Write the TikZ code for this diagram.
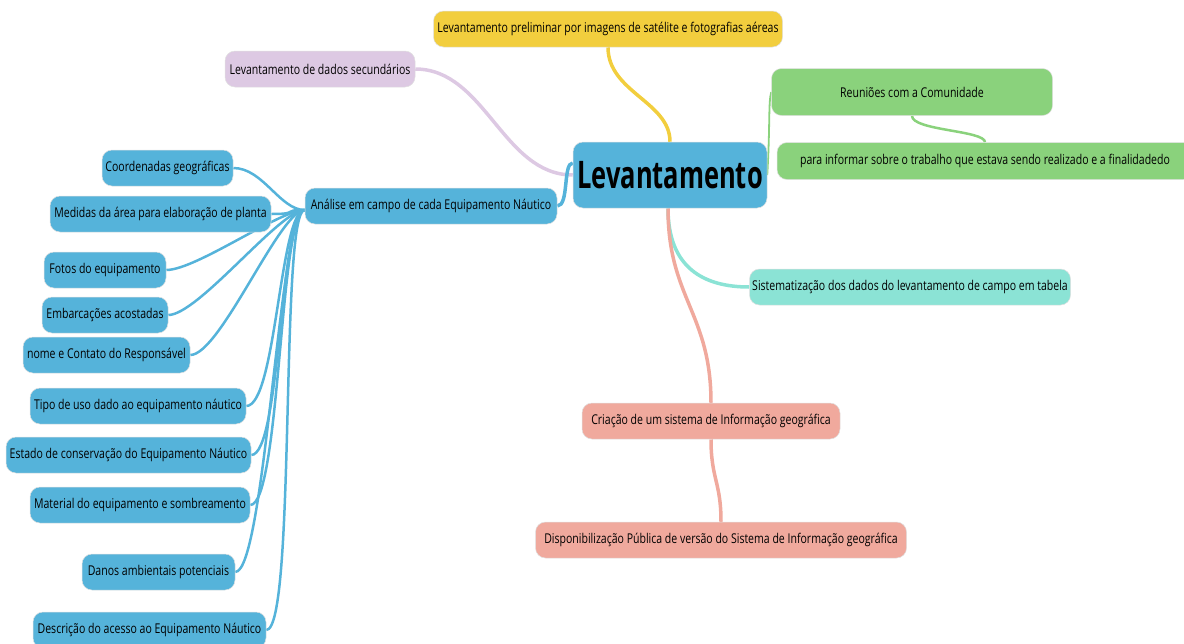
\documentclass[tikz,border=0pt]{standalone}
\usepackage{fontspec}
\setmainfont{Open Sans}[FakeStretch=0.78]
\newfontfamily\levfont{Open Sans}[FakeStretch=0.67]
\usetikzlibrary{backgrounds}
\definecolor{azul}{HTML}{55B3DA}
\definecolor{amarelo}{HTML}{F2CE3E}
\definecolor{lilas}{HTML}{DDC9E3}
\definecolor{verde}{HTML}{8AD27C}
\definecolor{turquesa}{HTML}{8BE3D5}
\definecolor{salmao}{HTML}{F0A99D}
\begin{document}
\begin{tikzpicture}[x=1pt,y=-1pt,line cap=round,font=\fontsize{13.5}{16}\selectfont,
	caixa/.style={rounded corners=10pt,draw=black!12,line width=.5pt,minimum height=36pt,inner sep=0pt,text=black},
	ramo/.style={line width=3.5pt},
	folha/.style={line width=2.5pt,azul}]
	\useasboundingbox (0,0) rectangle (1184,643);
	% centro
	\node[caixa,fill=azul,minimum width=194pt,minimum height=66pt,font=\levfont\fontsize{38}{40}\selectfont\bfseries] (lev) at (670,175) {Levantamento};
	\node[caixa,fill=amarelo,minimum width=349pt] (prelim) at (608,29) {Levantamento preliminar por imagens de satélite e fotografias aéreas};
	\node[caixa,fill=lilas,minimum width=190pt] (secund) at (320,69) {Levantamento de dados secundários};
	\node[caixa,fill=verde,minimum width=281pt,minimum height=47pt] (reuniao) at (912,92) {Reuniões com a Comunidade};
	\node[caixa,fill=verde,minimum width=416pt,minimum height=37pt] (informar) at (985,161) {para informar sobre o trabalho que estava sendo realizado e a finalidadedo};
	\node[caixa,fill=turquesa,minimum width=321pt] (tabela) at (910,287) {Sistematização dos dados do levantamento de campo em tabela};
	\node[caixa,fill=salmao,minimum width=258pt] (sig) at (711,421) {Criação de um sistema de Informação geográfica};
	\node[caixa,fill=salmao,minimum width=371pt] (publico) at (721,540) {Disponibilização Pública de versão do Sistema de Informação geográfica};
	\node[caixa,fill=azul,minimum width=252pt] (analise) at (431,206) {Análise em campo de cada Equipamento Náutico};
	\begin{scope}[on background layer]
		\draw[ramo,amarelo] (prelim.south) .. controls +(0,45) and +(0,-40) .. (lev.north);
		\draw[ramo,lilas] (secund.east) .. controls +(70,0) and +(-70,0) .. (lev.west);
		\draw[ramo,azul] (analise.east) .. controls +(12,0) and +(-10,0) .. ([yshift=12pt]lev.west);
		\draw[line width=1.8pt,verde] (lev.east) .. controls +(3,-50) and +(-3,10) .. (reuniao.west);
		\draw[line width=2.5pt,verde] (reuniao.south) .. controls +(0,15) and +(0,-12) .. (informar.north);
		\draw[ramo,turquesa] ([xshift=-2pt]lev.south) .. controls +(0,60) and +(-45,0) .. (tabela.west);
		\draw[ramo,salmao] ([xshift=-2pt]lev.south) .. controls +(0,90) and +(0,-90) .. (sig.north);
		\draw[ramo,salmao] (sig.south) .. controls +(0,40) and +(0,-40) .. (publico.north);
	\end{scope}
	% folhas da analise
	\foreach \n/\xl/\xr/\y/\t in {coord/102/233/168/Coordenadas geográficas,
		medidas/50/271/214/Medidas da área para elaboração de planta,
		fotos/44/166/270/Fotos do equipamento,
		embarc/42/168/315/Embarcações acostadas,
		contato/23/190/355/nome e Contato do Responsável,
		tipo/30/246/406/Tipo de uso dado ao equipamento náutico,
		estado/6/251/455/Estado de conservação do Equipamento Náutico,
		material/30/250/505/Material do equipamento e sombreamento,
		danos/82/235/572/Danos ambientais potenciais,
		acesso/33/266/630/Descrição do acesso ao Equipamento Náutico}{
		\node[caixa,fill=azul,minimum width={(\xr-\xl)*1pt}] (\n) at ({(\xl+\xr)/2},\y) {\t};
		\begin{scope}[on background layer]
			\draw[folha] ([yshift=-4pt]analise.west) .. controls +(-25,0) and +(30,0) .. (\n.east);
		\end{scope}
	}
\end{tikzpicture}
\end{document}
